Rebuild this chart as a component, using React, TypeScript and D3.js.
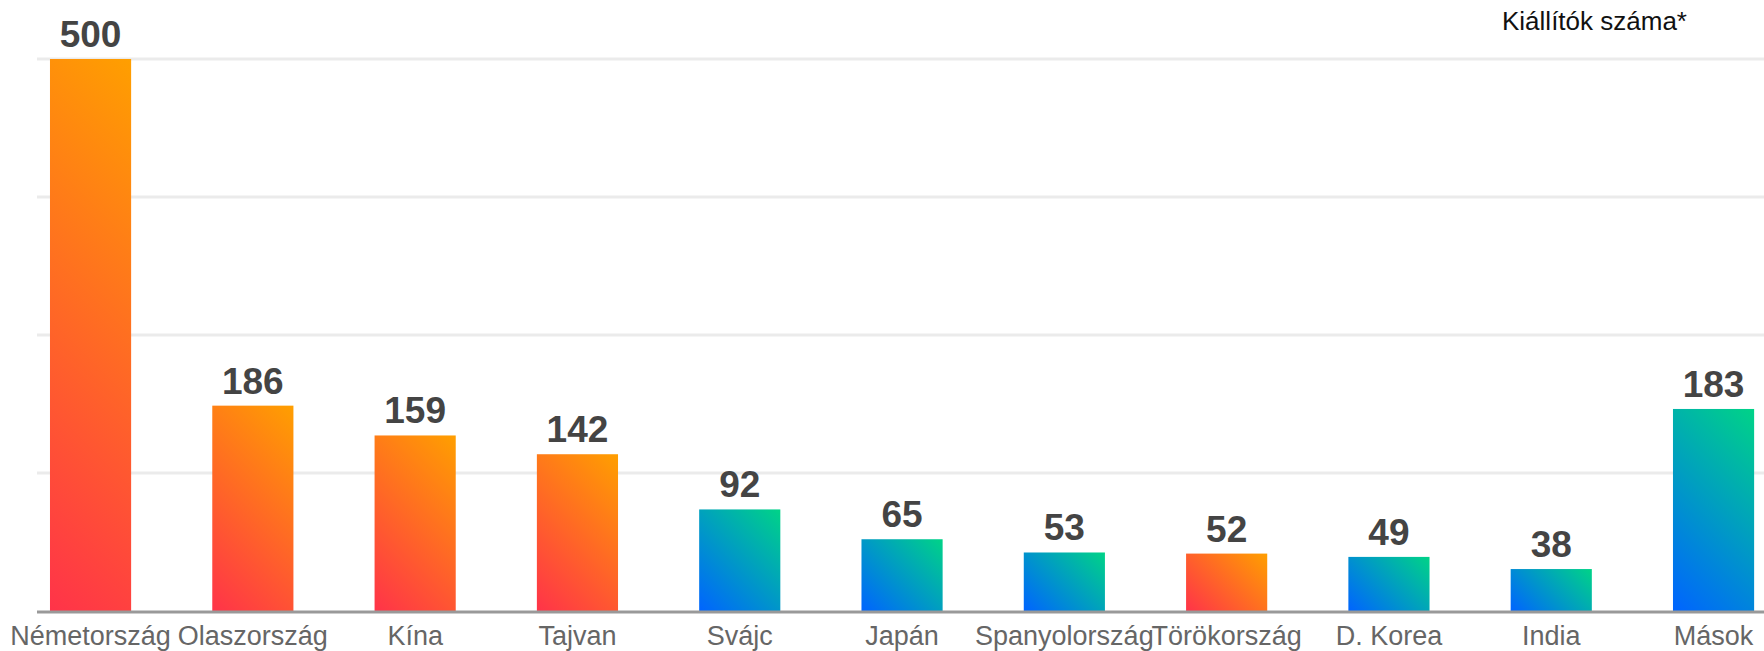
import React from "react";
import * as d3 from "d3";

const categories = ["Németország", "Olaszország", "Kína", "Tajvan", "Svájc", "Japán", "Spanyolország", "Törökország", "D. Korea", "India", "Mások"];
const values = [500, 186, 159, 142, 92, 65, 53, 52, 49, 38, 183];
const palette = ["orange", "orange", "orange", "orange", "blue", "blue", "blue", "orange", "blue", "blue", "blue"];
const gridTicks = [0, 125, 250, 375, 500];
const title = "Kiállítók száma*";

const colors: Record<string, [string, string]> = {
  orange: ["#ff3349", "#ff9f00"],
  blue: ["#0064ff", "#00d387"],
};

const W = 1764;
const H = 651;

export default function App() {
  const x = d3.scaleBand<string>().domain(categories).range([9.4, 1794.7]).paddingInner(0.5).paddingOuter(0.25);
  const y = d3.scaleLinear().domain([0, 500]).range([611, 59]);
  const font = "'Liberation Sans', Arial, Helvetica, sans-serif";
  const bw = x.bandwidth();
  return (
    <svg width={W} height={H} style={{ position: "absolute", left: 0, top: 0 }} fontFamily={font}>
      <defs>
        {categories.map((c, i) => {
          const bx = x(c) as number;
          const by = y(values[i]);
          const bh = y(0) - by;
          const d = (bw + bh) / 2;
          const [c0, c1] = colors[palette[i]];
          return (
            <linearGradient
              key={"g" + i}
              id={"g" + i}
              gradientUnits="userSpaceOnUse"
              x1={bx}
              y1={by + bh}
              x2={bx + d}
              y2={by + bh - d}
            >
              <stop offset="0%" stopColor={c0} />
              <stop offset="100%" stopColor={c1} />
            </linearGradient>
          );
        })}
      </defs>
      <rect x={0} y={0} width={W} height={H} fill="#fff" />
      {gridTicks.slice(1).map((t) => (
        <line key={t} x1={37} x2={W} y1={y(t)} y2={y(t)} stroke="#ebebeb" strokeWidth={3} />
      ))}
      {categories.map((c, i) => (
        <rect
          key={c}
          x={x(c)}
          y={y(values[i])}
          width={bw}
          height={y(0) - y(values[i])}
          fill={`url(#g${i})`}
        />
      ))}
      <line x1={37} x2={W} y1={y(0) + 1} y2={y(0) + 1} stroke="#999" strokeWidth={3} />
      {categories.map((c, i) => (
        <text
          key={"v" + c}
          x={(x(c) as number) + bw / 2}
          y={y(values[i]) - 12}
          textAnchor="middle"
          fontSize={37}
          fontWeight="bold"
          fill="#444"
        >
          {values[i]}
        </text>
      ))}
      {categories.map((c) => (
        <text
          key={"c" + c}
          x={(x(c) as number) + bw / 2}
          y={645}
          textAnchor="middle"
          fontSize={27}
          fill="#666"
        >
          {c}
        </text>
      ))}
      <text x={1502} y={30} fontSize={26} fill="#111">
        {title}
      </text>
    </svg>
  );
}
